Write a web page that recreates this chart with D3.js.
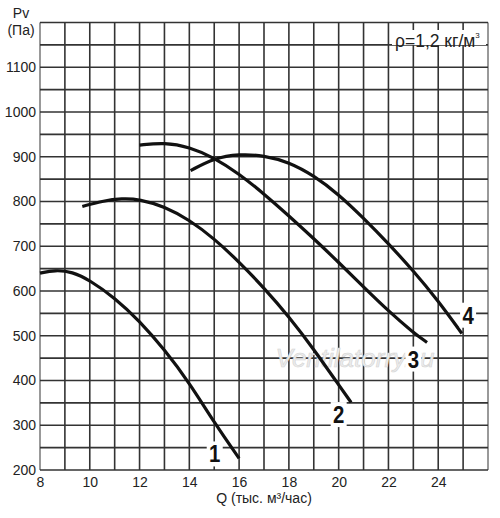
<!DOCTYPE html>
<html>
<head>
<meta charset="utf-8">
<script src="https://cdn.jsdelivr.net/npm/d3@7"></script>
<style>
  html, body { margin: 0; padding: 0; background: #fff; }
  svg { display: block; font-family: "Liberation Sans", Arial, sans-serif; }
</style>
</head>
<body>
<svg id="chart" width="500" height="518"></svg>
<script>
// ---- data ----
const xTicks = [8, 10, 12, 14, 16, 18, 20, 22, 24];
const yTicks = [200, 300, 400, 500, 600, 700, 800, 900, 1000, 1100];
const curveNames = ["1", "2", "3", "4"];

const q1 = [8, 8.6, 9.3, 10, 11, 12, 13, 14, 15, 16];
const p1 = [640, 647, 643, 624, 585, 533, 469, 395, 306, 226];

const q2 = [9.7, 10.5, 11.3, 12, 13, 14, 15, 16, 17, 18, 19, 20, 20.5];
const p2 = [789, 801, 807, 805, 789, 759, 717, 665, 607, 543, 470, 390, 351];

const q3 = [12, 13, 14, 15, 16, 17, 18, 19, 20, 21, 22, 23, 23.55];
const p3 = [926, 932, 922, 898, 862, 817, 768, 717, 664, 609, 555, 507, 485];

const q4 = [14.05, 15, 16, 17, 18, 19, 20, 21, 22, 23, 24, 24.95];
const p4 = [869, 897, 906, 903, 888, 858, 816, 763, 706, 645, 578, 505];

// label anchor positions in data units (where numbers sit)
const labelQ = [15.02, 20.0, 23.0, 25.2];
const labelP = [237, 325, 449, 547];

// ---- chart ----
const svg = d3.select("#chart");
const x = d3.scaleLinear().domain([8, 26]).range([40, 488]);
const y = d3.scaleLinear().domain([200, 1200]).range([470, 22.5]);

const gridColor = "#333";
const g = svg.append("g");

// grid verticals
const vLines = d3.range(8, 27, 1);
g.selectAll("line.v").data(vLines).join("line")
  .attr("x1", d => x(d)).attr("x2", d => x(d))
  .attr("y1", y(1200)).attr("y2", y(200))
  .attr("stroke", d => (d === 8 || d === 26) ? "#999" : gridColor)
  .attr("stroke-width", d => (d === 8 || d === 26) ? 2 : 1.6);

// grid horizontals
const hLines = d3.range(200, 1201, 50);
g.selectAll("line.h").data(hLines).join("line")
  .attr("x1", x(8)).attr("x2", x(26))
  .attr("y1", d => y(d)).attr("y2", d => y(d))
  .attr("stroke", gridColor)
  .attr("stroke-width", 1.6);

// watermark
svg.append("text")
  .attr("x", 355).attr("y", 367)
  .attr("text-anchor", "middle")
  .attr("font-size", 26)
  .attr("font-style", "italic")
  .attr("fill", "#ececec")
  .attr("stroke", "#d4d4d4")
  .attr("stroke-width", 0.6)
  .text("Ventilatorry.ru");

// axes
const xAxis = d3.axisBottom(x).tickValues(xTicks).tickSize(0).tickPadding(7).tickFormat(d3.format("d"));
const ax = svg.append("g").attr("transform", `translate(0,${y(200)})`).call(xAxis);
ax.select(".domain").remove();
ax.selectAll("text").attr("font-size", 14).attr("fill", "#222")
  .attr("font-family", "Liberation Sans, Arial, sans-serif");

const yAxis = d3.axisLeft(y).tickValues(yTicks).tickSize(0).tickPadding(4).tickFormat(d3.format("d"));
const ay = svg.append("g").attr("transform", `translate(${x(8)},0)`).call(yAxis);
ay.select(".domain").remove();
ay.selectAll("text").attr("font-size", 14).attr("fill", "#222")
  .attr("font-family", "Liberation Sans, Arial, sans-serif");

// curves
const series = [
  q1.map((q, i) => [q, p1[i]]),
  q2.map((q, i) => [q, p2[i]]),
  q3.map((q, i) => [q, p3[i]]),
  q4.map((q, i) => [q, p4[i]])
];
const line = d3.line().x(d => x(d[0])).y(d => y(d[1])).curve(d3.curveBasis);
svg.append("g").selectAll("path").data(series).join("path")
  .attr("d", line)
  .attr("fill", "none")
  .attr("stroke", "#111")
  .attr("stroke-width", 3.2);

// curve number labels with white backing
const lg = svg.append("g");
curveNames.forEach((name, i) => {
  const cx = x(labelQ[i]), cy = y(labelP[i]);
  lg.append("rect")
    .attr("x", cx - 8).attr("y", cy - 12)
    .attr("width", 16).attr("height", 25)
    .attr("fill", "#fff");
  lg.append("text")
    .attr("x", cx).attr("y", cy + 9)
    .attr("text-anchor", "middle")
    .attr("font-size", 24)
    .attr("font-weight", "bold")
    .attr("fill", "#111")
    .attr("transform", `translate(${cx},0) scale(0.85,1) translate(${-cx},0)`)
    .text(name);
});

// density note
svg.append("rect").attr("x", 392).attr("y", 30).attr("width", 94).attr("height", 15).attr("fill", "#fff");
const dt = svg.append("text")
  .attr("x", 395).attr("y", 46.5)
  .attr("font-size", 17.5)
  .attr("fill", "#222");
dt.append("tspan").text("ρ=1,2 кг/м");
dt.append("tspan").attr("font-size", 8).attr("dy", -9).text("3");

// axis titles
svg.append("text").attr("x", 21).attr("y", 18).attr("text-anchor", "middle")
  .attr("font-size", 14).attr("fill", "#222").text("Pv");
svg.append("text").attr("x", 21).attr("y", 35).attr("text-anchor", "middle")
  .attr("font-size", 14).attr("fill", "#222").text("(Па)");
svg.append("text").attr("x", 264).attr("y", 503).attr("text-anchor", "middle")
  .attr("font-size", 14).attr("fill", "#222").text("Q (тыс. м³/час)");
</script>
</body>
</html>
